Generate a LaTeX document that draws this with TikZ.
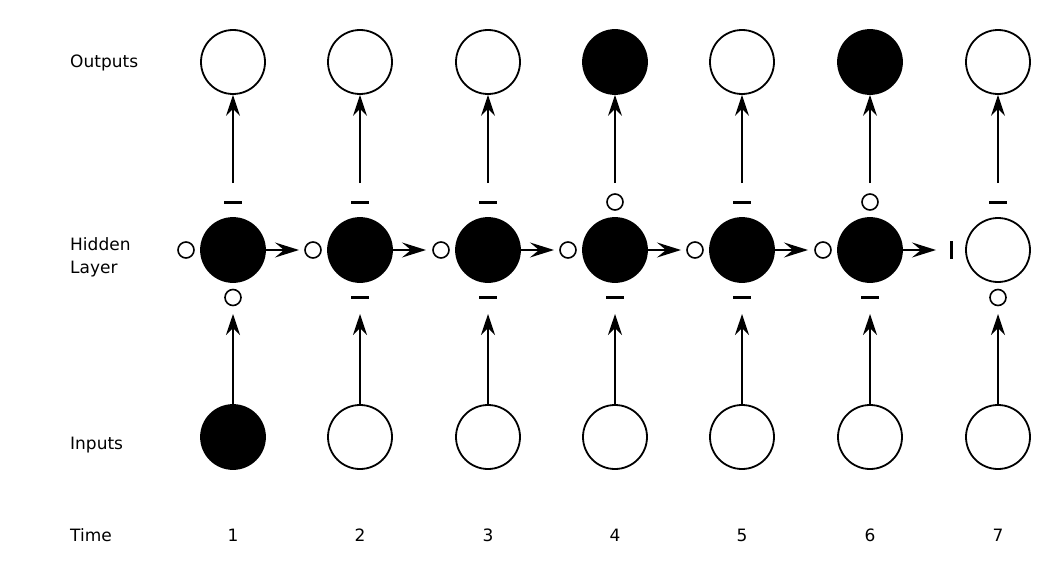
\documentclass[tikz,border=0pt]{standalone}
\usepackage{fontspec}
\setmainfont{DejaVu Sans}
\usetikzlibrary{arrows.meta}
\begin{document}
\begin{tikzpicture}[x=1pt,y=-1pt,
  unit/.style={circle,draw=black,line width=1.8pt,minimum size=64pt,inner sep=0pt},
  on/.style={unit,fill=black},
  off/.style={unit,fill=white},
  gateo/.style={circle,draw=black,line width=1.6pt,minimum size=16pt,inner sep=0pt},
  gated/.style={draw=none,fill=black,minimum width=18pt,minimum height=3pt,inner sep=0pt},
  gatev/.style={draw=none,fill=black,minimum width=3pt,minimum height=18pt,inner sep=0pt},
  vlink/.style={line width=1.5pt,-{Stealth[length=21pt,width=14pt,inset=7pt]}},
  hlink/.style={line width=1.5pt,-{Stealth[length=24pt,width=15pt,inset=9pt]}},
  lbl/.style={anchor=west,font=\fontsize{17}{23}\selectfont,align=left,inner sep=0pt},
  num/.style={anchor=base,font=\fontsize{17}{23}\selectfont,inner sep=0pt}]
\useasboundingbox (0,0) rectangle (1050,578);
% row labels
\node[lbl] (lout) at (70,63) {Outputs};
\node[lbl] (lhid) at (70,257) {Hidden\\Layer};
\node[lbl] (lin) at (70,445) {Inputs};
\node[lbl] (ltime) at (70,535) {Time};
% columns
\foreach \i/\x/\o/\h/\n/\t/\b/\l in {
  1/233/off/on/on/gated/gateo/gateo,
  2/360/off/on/off/gated/gated/gateo,
  3/488/off/on/off/gated/gated/gateo,
  4/615/on/on/off/gateo/gated/gateo,
  5/742/off/on/off/gated/gated/gateo,
  6/870/on/on/off/gateo/gated/gateo,
  7/998/off/off/off/gated/gateo/gatev}{
  \node[\o] (out\i) at (\x,62) {};
  \node[\h] (h\i) at (\x,250) {};
  \node[\n] (in\i) at (\x,437) {};
  \node[num] (t\i) at (\x,541) {\i};
  \node[\t] (gt\i) at (\x,202) {};
  \node[\b] (gb\i) at (\x,297.5) {};
  \node[\l] (gl\i) at (\x-47,250) {};
  \coordinate (ia\i) at (\x,314);
  \coordinate (oa\i) at (\x,183);
  \draw[vlink] (in\i) -- (ia\i);
  \draw[vlink] (oa\i) -- (out\i);
}
\foreach \i/\x in {1/233,2/360,3/488,4/615,5/742,6/870}{
  \coordinate (ha\i) at (\x+66,250);
  \draw[hlink] (h\i) -- (ha\i);
}
\end{tikzpicture}
\end{document}
